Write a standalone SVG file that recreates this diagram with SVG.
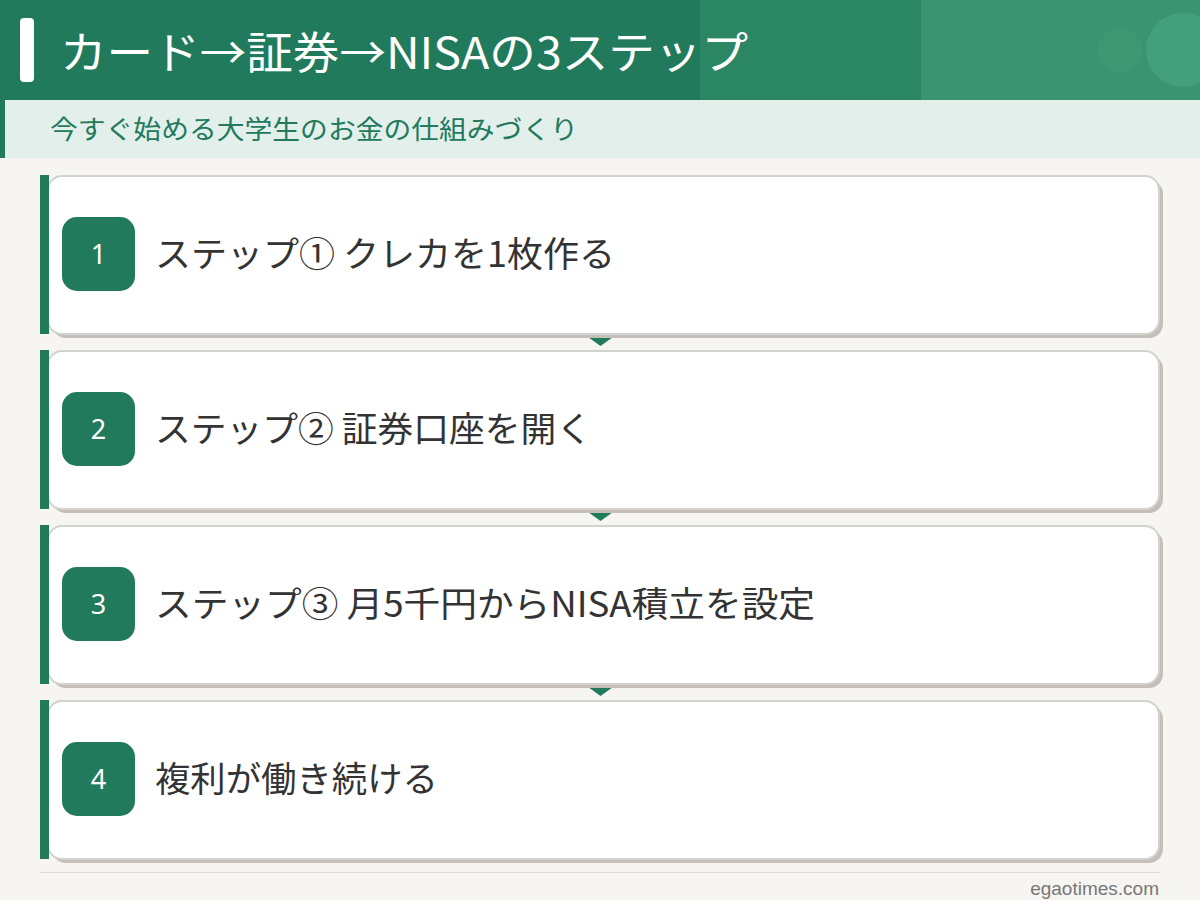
<svg xmlns="http://www.w3.org/2000/svg" width="1200" height="900" viewBox="0 0 1200 900">
<defs>
<style>
.t{font-family:"Noto Sans CJK JP","Noto Sans",sans-serif}
.card{fill:#ffffff;stroke:#d2d2d0;stroke-width:2}
.shadow{fill:#c5bfb8}
.bar{fill:#217a5c}
.badge{fill:#217a5c}
.num{font-family:"Noto Sans","Noto Sans CJK JP",sans-serif;font-size:27px;fill:#ffffff;text-anchor:middle}
.lbl{font-family:"Noto Sans CJK JP","Noto Sans",sans-serif;font-size:35px;fill:#333333}
.arrow{fill:#217a5c}
</style>
</defs>
<rect x="0" y="0" width="1200" height="900" fill="#f6f5f1"/>
<g id="header">
<rect x="0" y="0" width="1200" height="100" fill="#217a5c"/>
<rect x="700" y="0" width="500" height="100" fill="#2b8664"/>
<rect x="921" y="0" width="279" height="100" fill="#3a9472"/>
<circle cx="1120" cy="50" r="22" fill="#3d9873"/>
<circle cx="1183" cy="50" r="37" fill="#44a07c"/>
<rect x="20" y="18" width="14" height="64" rx="4" fill="#ffffff"/>
<text class="t" x="60" y="69" font-size="44" fill="#ffffff" textLength="688" lengthAdjust="spacingAndGlyphs">カード→証券→NISAの3ステップ</text>
</g>
<g id="subtitle">
<rect x="0" y="100" width="1200" height="58" fill="#e2efea"/>
<rect x="0" y="100" width="5" height="58" fill="#217a5c"/>
<text class="t" x="50" y="139" font-size="26" fill="#217a5c" textLength="528" lengthAdjust="spacingAndGlyphs">今すぐ始める大学生のお金の仕組みづくり</text>
</g>
<g id="connectors">
<path class="arrow" d="M588 337 L613 337 L600.5 346 Z"/>
<path class="arrow" d="M588 512 L613 512 L600.5 521 Z"/>
<path class="arrow" d="M588 687 L613 687 L600.5 696 Z"/>
</g>
<g id="step1">
<rect class="shadow" x="52" y="180" width="1111" height="158" rx="14"/>
<rect class="card" x="48" y="176" width="1111" height="158" rx="14"/>
<rect class="bar" x="40" y="175" width="9" height="159"/>
<rect class="badge" x="62" y="217" width="73" height="74" rx="15"/>
<text class="num" x="98.5" y="264">1</text>
<text class="lbl" x="155" y="267" textLength="460" lengthAdjust="spacingAndGlyphs">ステップ① クレカを1枚作る</text>
</g>
<g id="step2">
<rect class="shadow" x="52" y="355" width="1111" height="158" rx="14"/>
<rect class="card" x="48" y="351" width="1111" height="158" rx="14"/>
<rect class="bar" x="40" y="350" width="9" height="159"/>
<rect class="badge" x="62" y="392" width="73" height="74" rx="15"/>
<text class="num" x="98.5" y="439">2</text>
<text class="lbl" x="155" y="442" textLength="437" lengthAdjust="spacingAndGlyphs">ステップ② 証券口座を開く</text>
</g>
<g id="step3">
<rect class="shadow" x="52" y="530" width="1111" height="158" rx="14"/>
<rect class="card" x="48" y="526" width="1111" height="158" rx="14"/>
<rect class="bar" x="40" y="525" width="9" height="159"/>
<rect class="badge" x="62" y="567" width="73" height="74" rx="15"/>
<text class="num" x="98.5" y="614">3</text>
<text class="lbl" x="155" y="617" textLength="660" lengthAdjust="spacingAndGlyphs">ステップ③ 月5千円からNISA積立を設定</text>
</g>
<g id="step4">
<rect class="shadow" x="52" y="705" width="1111" height="158" rx="14"/>
<rect class="card" x="48" y="701" width="1111" height="158" rx="14"/>
<rect class="bar" x="40" y="700" width="9" height="159"/>
<rect class="badge" x="62" y="742" width="73" height="74" rx="15"/>
<text class="num" x="98.5" y="789">4</text>
<text class="lbl" x="155" y="792" textLength="283" lengthAdjust="spacingAndGlyphs">複利が働き続ける</text>
</g>
<g id="footer">
<line x1="40" y1="872.5" x2="1160" y2="872.5" stroke="#dcdad5" stroke-width="1"/>
<text x="1159" y="895" font-family="Liberation Sans, Arial, sans-serif" font-size="19" fill="#777777" text-anchor="end">egaotimes.com</text>
</g>
</svg>
